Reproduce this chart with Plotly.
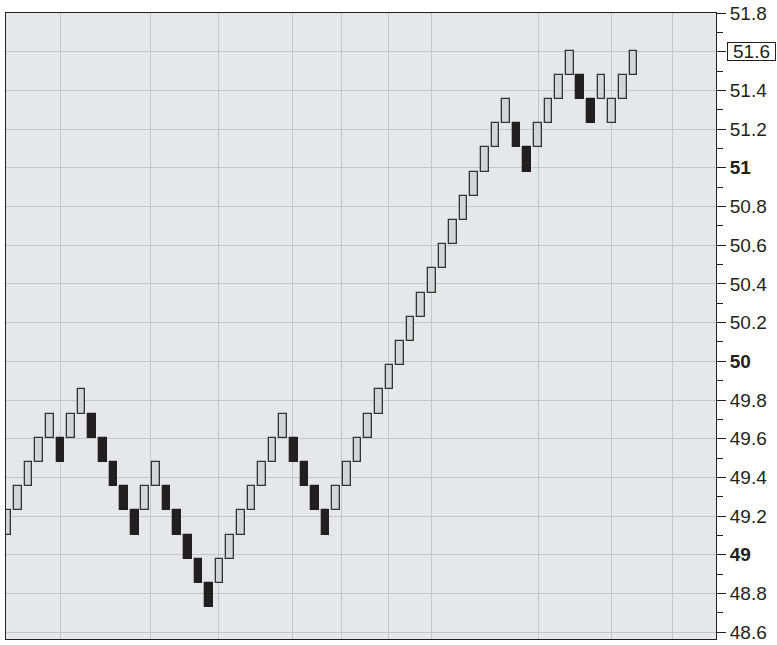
import plotly.graph_objects as go

# ---- data ----
BOX = 0.125          # renko brick size
BASE = 48.73         # price of level 0
brick_levels = [3, 4, 5, 6, 7, 6, 7, 8, 7, 6,
                5, 4, 3, 4, 5, 4, 3, 2, 1, 0,
                1, 2, 3, 4, 5, 6, 7, 6, 5, 4,
                3, 4, 5, 6, 7, 8, 9, 10, 11, 12,
                13, 14, 15, 16, 17, 18, 19, 20, 19, 18,
                19, 20, 21, 22, 21, 20, 21, 20, 21, 22]
brick_up = [1, 1, 1, 1, 1, 0, 1, 1, 0, 0,
            0, 0, 0, 1, 1, 0, 0, 0, 0, 0,
            1, 1, 1, 1, 1, 1, 1, 0, 0, 0,
            0, 1, 1, 1, 1, 1, 1, 1, 1, 1,
            1, 1, 1, 1, 1, 1, 1, 1, 0, 0,
            1, 1, 1, 1, 0, 0, 1, 1, 1, 1]
date_grid = [6.0, 14.5, 20.9, 27.9, 32.45, 36.95, 41.0, 51.05, 57.9, 63.7]
y_ticks = [48.6, 48.8, 49.0, 49.2, 49.4, 49.6, 49.8, 50.0, 50.2, 50.4,
           50.6, 50.8, 51.0, 51.2, 51.4, 51.6, 51.8]
y_ticktext = ["48.6", "48.8", "<b>49</b>", "49.2", "49.4", "49.6", "49.8",
              "<b>50</b>", "50.2", "50.4", "50.6", "50.8", "<b>51</b>",
              "51.2", "51.4", "", "51.8"]
last_price = 51.6

# ---- build ----
x = list(range(1, len(brick_levels) + 1))
bases = [BASE + BOX * k for k in brick_levels]
fills = ["#D4D5D7" if u else "#231F20" for u in brick_up]
edges = ["#333333" if u else "#231F20" for u in brick_up]

fig = go.Figure()
fig.add_trace(go.Bar(
    x=x, y=[BOX] * len(x), base=bases,
    width=0.72,
    marker=dict(color=fills, line=dict(color=edges, width=1.3)),
    hoverinfo="skip", showlegend=False,
))

FONT = "Liberation Sans, Arial, Helvetica, sans-serif"
fig.update_layout(
    width=777, height=645,
    margin=dict(l=6, r=61, t=13, b=6, autoexpand=False),
    paper_bgcolor="white",
    plot_bgcolor="#E6E7E9",
    bargap=0,
    showlegend=False,
    font=dict(family=FONT, size=19, color="#231F20"),
)
fig.update_xaxes(
    range=[0.87, 67.79], automargin=False,
    tickvals=date_grid, showticklabels=False, ticks="",
    showgrid=True, gridcolor="#C4C5C7", gridwidth=1.2,
    zeroline=False,
    showline=True, linecolor="#231F20", linewidth=1, mirror=True,
)
fig.update_yaxes(
    side="right", automargin=False,
    range=[48.565, 51.8],
    tickvals=y_ticks, ticktext=y_ticktext,
    ticks="outside", ticklen=9, tickwidth=1, tickcolor="#231F20",
    minor=dict(dtick=0.1, tick0=48.6, ticks="outside", ticklen=6,
               tickwidth=1, tickcolor="#231F20", showgrid=False),
    showgrid=True, gridcolor="#C4C5C7", gridwidth=1.2,
    zeroline=False,
    showline=True, linecolor="#231F20", linewidth=1, mirror=True,
    tickfont=dict(family=FONT, size=19, color="#231F20"),
)
fig.add_annotation(
    xref="paper", yref="y", x=1, y=last_price,
    xanchor="left", yanchor="middle", xshift=11,
    text=f"{last_price:.1f}", showarrow=False,
    font=dict(family=FONT, size=19, color="#231F20"),
    bordercolor="#231F20", borderwidth=1, borderpad=1,
    width=45, height=15, bgcolor="white",
)

fig.write_html("out.html",
               config={"displayModeBar": False},
               post_script="document.body.style.margin='0px';"
                           "document.body.style.padding='0px';")
